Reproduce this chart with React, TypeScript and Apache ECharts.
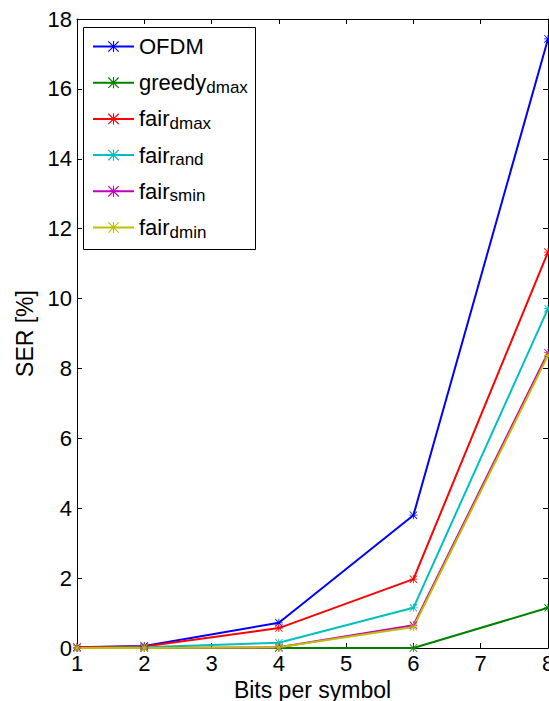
import React, { useEffect, useRef } from 'react';
import * as echarts from 'echarts';

// Data
const xValues = [1, 2, 4, 6, 8];
const ofdm = [0.02, 0.06, 0.72, 3.8, 17.43];
const greedyDmax = [0.0, 0.0, 0.0, 0.0, 1.15];
const fairDmax = [0.02, 0.04, 0.57, 1.97, 11.33];
const fairRand = [0.0, 0.02, 0.15, 1.15, 9.71];
const fairSmin = [0.0, 0.0, 0.02, 0.65, 8.45];
const fairDmin = [0.0, 0.0, 0.02, 0.6, 8.37];

const seriesNames = ['OFDM', 'greedy_dmax', 'fair_dmax', 'fair_rand', 'fair_smin', 'fair_dmin'];
const seriesValues = [ofdm, greedyDmax, fairDmax, fairRand, fairSmin, fairDmin];
const seriesColors = ['#0000ff', '#008000', '#ff0000', '#00bfbf', '#bf00bf', '#bfbf00'];

const yMin = 0;
const yMax = 18;
const yInterval = 2;
const xMin = 1;
const xMax = 8;
const xInterval = 1;

const FONT = 'Liberation Sans, Arial, Helvetica, sans-serif';
const ASTERISK =
  'path://M9,0L11,0L11,20L9,20ZM0,9L20,9L20,11L0,11ZM1.5,0L20,18.5L18.5,20L0,1.5ZM18.5,0L20,1.5L1.5,20L0,18.5Z';

export default function App() {
  const ref = useRef<HTMLDivElement>(null);

  useEffect(() => {
    if (!ref.current) return;
    const chart = echarts.init(ref.current, undefined, { renderer: 'svg' });

    const axisLine = { show: true, onZero: false, lineStyle: { color: '#000', width: 1 } };
    const axisTick = { show: true, inside: true, length: 5, lineStyle: { color: '#000', width: 1 } };
    const labelStyle = { fontSize: 22, color: '#000', fontFamily: FONT };
    const nameStyle = { fontSize: 23, color: '#000', fontFamily: FONT };

    const option: any = {
      animation: false,
      backgroundColor: '#fff',
      grid: {
        left: 77,
        right: 1,
        top: 19,
        bottom: 53,
        containLabel: false,
        outerBoundsMode: 'none',
      },
      xAxis: [
        {
          type: 'value',
          min: xMin,
          max: xMax,
          interval: xInterval,
          position: 'bottom',
          axisLine,
          axisTick,
          splitLine: { show: false },
          axisLabel: { ...labelStyle, margin: 4 },
          name: 'Bits per symbol',
          nameLocation: 'middle',
          nameGap: 25,
          nameTextStyle: { ...nameStyle },
        },
        {
          type: 'value',
          min: xMin,
          max: xMax,
          interval: xInterval,
          position: 'top',
          axisLine,
          axisTick,
          splitLine: { show: false },
          axisLabel: { show: false },
        },
      ],
      yAxis: [
        {
          type: 'value',
          min: yMin,
          max: yMax,
          interval: yInterval,
          position: 'left',
          axisLine,
          axisTick,
          splitLine: { show: false },
          axisLabel: { ...labelStyle, margin: 5 },
          name: 'SER [%]',
          nameLocation: 'middle',
          nameGap: 40,
          nameTextStyle: { ...nameStyle },
        },
        {
          type: 'value',
          min: yMin,
          max: yMax,
          interval: yInterval,
          position: 'right',
          axisLine,
          axisTick,
          splitLine: { show: false },
          axisLabel: { show: false },
        },
      ],
      legend: {
        orient: 'vertical',
        left: 92,
        top: 19.5,
        padding: 0,
        itemWidth: 41,
        itemHeight: 14,
        itemGap: -3.8,
        selectedMode: false,
        data: seriesNames,
        z: 5,
        formatter: (name: string) => {
          const parts = name.split('_');
          const sub = parts[1] ? parts[1] : ' ';
          return `{m|${parts[0]}}{s|${sub}}`;
        },
        textStyle: {
          color: '#000',
          fontFamily: FONT,
          rich: {
            m: { fontSize: 22, lineHeight: 26, verticalAlign: 'middle', color: '#000', fontFamily: FONT },
            s: {
              fontSize: 17,
              lineHeight: 18,
              padding: [23, 0, 0, 0],
              verticalAlign: 'bottom',
              color: '#000',
              fontFamily: FONT,
            },
          },
        },
      },
      graphic: [
        {
          type: 'rect',
          z: 3,
          silent: true,
          shape: { x: 83.5, y: 27.5, width: 172, height: 222 },
          style: { fill: '#fff', stroke: '#000', lineWidth: 1 },
        },
      ],
      series: seriesNames.map((name, i) => ({
        type: 'line',
        name,
        xAxisIndex: 0,
        yAxisIndex: 0,
        data: xValues.map((x, j) => [x, seriesValues[i][j]]),
        symbol: ASTERISK,
        symbolSize: 8,
        showAllSymbol: true,
        clip: false,
        lineStyle: { color: seriesColors[i], width: 2 },
        itemStyle: { color: seriesColors[i] },
        emphasis: { disabled: true },
        z: 2,
      })),
    };

    chart.setOption(option);
    return () => chart.dispose();
  }, []);

  return (
    <div
      ref={ref}
      style={{ position: 'fixed', left: 0, top: 0, width: 549, height: 701 }}
    />
  );
}
